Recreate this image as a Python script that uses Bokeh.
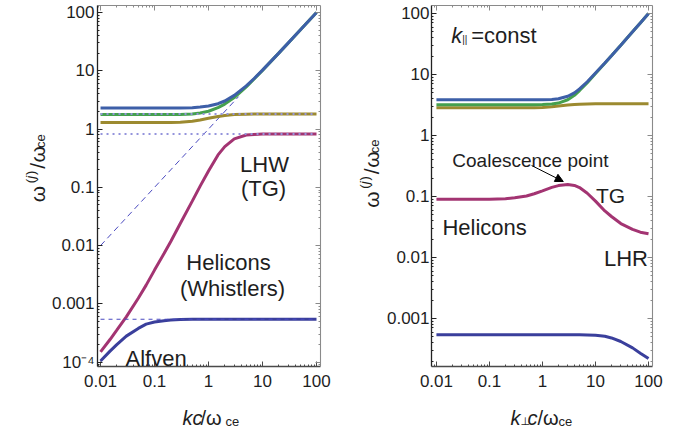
import math
from bokeh.plotting import figure
from bokeh.models import (Range1d, FixedTicker, LogAxis, Label, Arrow, NormalHead,
                          CustomJSTickFormatter)
from bokeh.layouts import row, column
from bokeh.embed import file_html
from bokeh.resources import INLINE

# ---------------- data ----------------
# left panel: parallel propagation, x = kc/omega_ce
K_PAR = [0.01, 0.015, 0.02, 0.03, 0.05, 0.07, 0.1, 0.15, 0.2, 0.3, 0.5, 0.7,
         1, 1.5, 2, 3, 5, 7, 10, 20, 30, 50, 100]
FAST_PAR = [2.30, 2.30, 2.30, 2.30, 2.30, 2.30, 2.30, 2.30, 2.30, 2.30, 2.33, 2.38,
            2.48, 2.72, 3.03, 3.78, 5.5, 7.37, 10.26, 20.1, 30.1, 50.05, 100]
GREEN_PAR = [1.77, 1.77, 1.77, 1.77, 1.77, 1.77, 1.77, 1.77, 1.77, 1.78, 1.82, 1.88,
             2.02, 2.33, 2.68, 3.47, 5.3, 7.23, 10.16, 20.08, 30.05, 50.03, 100]
OLIVE_PAR = [1.29, 1.29, 1.29, 1.29, 1.29, 1.29, 1.29, 1.29, 1.29, 1.31, 1.36, 1.43,
             1.53, 1.64, 1.71, 1.77, 1.80, 1.81, 1.81, 1.81, 1.81, 1.81, 1.81]
WHISTLER_PAR = [1.5e-4, 2.45e-4, 3.55e-4, 6.0e-4, 1.25e-3, 2.1e-3, 3.8e-3, 7.3e-3,
                0.0118, 0.024, 0.058, 0.105, 0.19, 0.36, 0.50, 0.68, 0.79, 0.81,
                0.82, 0.82, 0.82, 0.82, 0.82]
ALFVEN_PAR = [1.05e-4, 1.55e-4, 2.0e-4, 2.8e-4, 3.8e-4, 4.5e-4, 4.9e-4, 5.15e-4,
              5.28e-4, 5.38e-4, 5.43e-4, 5.45e-4, 5.45e-4, 5.45e-4, 5.45e-4, 5.45e-4,
              5.45e-4, 5.45e-4, 5.45e-4, 5.45e-4, 5.45e-4, 5.45e-4, 5.45e-4]
LEVEL_X = [0.01, 100]
LEVEL_UPPER = [1.81, 1.81]
LEVEL_LHW = [0.82, 0.82]
LEVEL_ALFVEN = [5.45e-4, 5.45e-4]
LIGHT_K = [0.01, 3.6]
LIGHT_W = [0.01, 3.6]

# right panel: k_parallel = const, x = k_perp c/omega_ce
K_PERP = [0.01, 0.02, 0.05, 0.1, 0.2, 0.3, 0.5, 0.7, 1, 1.5, 2, 3, 4, 5,
          7, 10, 15, 20, 30, 50, 70, 100]
FAST_PERP = [3.85, 3.85, 3.85, 3.85, 3.85, 3.85, 3.85, 3.85, 3.87, 3.9, 4.0, 4.4,
             5.0, 5.8, 7.6, 10.6, 15.4, 20.3, 30.2, 50.1, 70.1, 100]
GREEN_PERP = [3.2, 3.2, 3.2, 3.2, 3.2, 3.2, 3.2, 3.2, 3.22, 3.28, 3.4, 3.85,
              4.55, 5.45, 7.35, 10.4, 15.3, 20.25, 30.15, 50.1, 70.1, 100]
OLIVE_PERP = [2.86, 2.86, 2.86, 2.86, 2.86, 2.86, 2.86, 2.86, 2.88, 2.95, 3.05, 3.15,
              3.21, 3.25, 3.28, 3.30, 3.31, 3.31, 3.31, 3.31, 3.31, 3.31]
HELICON_PERP = [0.09, 0.09, 0.09, 0.0905, 0.092, 0.095, 0.102, 0.111, 0.124, 0.141,
                0.151, 0.157, 0.152, 0.14, 0.113, 0.084, 0.058, 0.047, 0.036,
                0.029, 0.026, 0.0245]
ALFVEN_PERP = [5.4e-4, 5.4e-4, 5.4e-4, 5.4e-4, 5.4e-4, 5.4e-4, 5.4e-4, 5.4e-4,
               5.4e-4, 5.4e-4, 5.4e-4, 5.4e-4, 5.4e-4, 5.4e-4, 5.38e-4, 5.3e-4,
               5.1e-4, 4.8e-4, 4.2e-4, 3.3e-4, 2.7e-4, 2.2e-4]

X_TICKS = [0.01, 0.1, 1, 10, 100]
X_TICK_LABELS = ["0.01", "0.1", "1", "10", "100"]
Y_TICKS_LEFT = [1e-4, 1e-3, 0.01, 0.1, 1, 10, 100]
Y_TICK_LABELS_LEFT = ["10\u207b\u2074", "0.001", "0.01", "0.1", "1", "10", "100"]
Y_TICKS_RIGHT = [1e-3, 0.01, 0.1, 1, 10, 100]
Y_TICK_LABELS_RIGHT = ["0.001", "0.01", "0.1", "1", "10", "100"]

# ---------------- styling ----------------
FONT = "Liberation Sans"
SYM_FONT = "DejaVu Sans"
INK = "#1e1e1e"
C_FAST = "#3d5fa8"
C_GREEN = "#45a04e"
C_OLIVE = "#9c8a30"
C_MAG = "#a33472"
C_NAVY = "#3a3f9c"
C_DOT = "#9494dc"
C_DASH = "#4a4ac0"

MINOR = [m * 10.0 ** e for e in range(-6, 4) for m in range(2, 10)]
MAIN_H = 398           # height of the row holding the two panels
XLAB_H = 439 - MAIN_H  # height of the row holding the x-axis titles


def fmt(ticks, labels):
    return CustomJSTickFormatter(args=dict(t=ticks, l=labels), code="""
        for (let i = 0; i < t.length; i++) {
            if (Math.abs(Math.log10(tick) - Math.log10(t[i])) < 1e-6) return l[i];
        }
        return "";
    """)


def label(fig, s, x, y, size, align="left", italic=False, angle=0.0, font=FONT):
    fig.add_layout(Label(x=x, y=y, text=s, text_font=font, text_font_size=f"{size}px",
                         text_color=INK, text_align=align, text_baseline="alphabetic",
                         text_font_style="italic" if italic else "normal", angle=angle))


def make_panel(page_x0, width, fl, fr, ft, fb, xlog, ylog, yticks, ylabels, ystandoff):
    p = figure(width=width, height=MAIN_H, x_axis_type="log", y_axis_type="log",
               x_range=Range1d(10 ** xlog[0], 10 ** xlog[1]),
               y_range=Range1d(10 ** ylog[0], 10 ** ylog[1]),
               output_backend="svg", toolbar_location=None,
               min_border_left=fl - page_x0, min_border_right=page_x0 + width - fr,
               min_border_top=ft, min_border_bottom=MAIN_H - fb)
    p.grid.visible = False
    p.outline_line_color = None
    p.background_fill_color = "white"
    p.border_fill_color = "white"
    xt = FixedTicker(ticks=X_TICKS, minor_ticks=MINOR)
    yt = FixedTicker(ticks=yticks, minor_ticks=MINOR)
    for ax, tk, f, col in ((p.xaxis[0], xt, fmt(X_TICKS, X_TICK_LABELS), "#4a4a4a"),
                           (p.yaxis[0], yt, fmt(yticks, ylabels), "#222222")):
        ax.ticker = tk
        ax.formatter = f
        ax.axis_line_color = col
        ax.axis_line_width = 1.3
        ax.major_tick_in = 5
        ax.major_tick_out = 0
        ax.minor_tick_in = 2
        ax.minor_tick_out = 0
        ax.major_tick_line_color = col
        ax.minor_tick_line_color = col
        ax.major_label_text_font = FONT
        ax.major_label_text_font_size = "17px"
        ax.major_label_text_color = INK
    p.xaxis[0].major_label_standoff = 8
    p.yaxis[0].major_label_standoff = ystandoff
    for loc, tk in (("right", yt), ("above", xt)):
        ax = LogAxis(ticker=tk, formatter=CustomJSTickFormatter(code="return '';"),
                     major_label_text_font_size="8px", major_label_standoff=0,
                     axis_line_color="#8a8a8a", axis_line_width=1.1,
                     major_tick_in=5, major_tick_out=0, minor_tick_in=2, minor_tick_out=0,
                     major_tick_line_color="#8a8a8a", minor_tick_line_color="#8a8a8a")
        p.add_layout(ax, loc)

    def to_data(px, py):
        lx = xlog[0] + (px - fl) / (fr - fl) * (xlog[1] - xlog[0])
        ly = ylog[1] - (py - ft) / (fb - ft) * (ylog[1] - ylog[0])
        return 10 ** lx, 10 ** ly

    def text(s, px, py, size, **kw):
        x, y = to_data(px, py)
        label(p, s, x, y, size, **kw)
    return p, to_data, text


def make_text_box(page_x0, page_y0, w, h):
    """A bare figure whose frame is the whole box, used to hold axis titles."""
    f = figure(width=w, height=h, x_range=Range1d(0, w), y_range=Range1d(0, h),
               x_axis_location=None, y_axis_location=None, toolbar_location=None,
               output_backend="svg", min_border=0)
    f.grid.visible = False
    f.outline_line_color = None
    f.background_fill_color = "white"
    f.border_fill_color = "white"

    def text(s, px, py, size, **kw):
        label(f, s, px - page_x0, h - (py - page_y0), size, **kw)
    return f, text


def ylabel(text, xb, y0):
    # rotated title  omega^(j) / omega_ce, built from pieces going upward
    r = math.pi / 2
    text("\u03c9", xb, y0, 21, angle=r)
    text("(", xb - 7, y0 - 21, 13, angle=r)
    text("j", xb - 7, y0 - 26, 13, italic=True, angle=r)
    text(")", xb - 7, y0 - 30, 13, angle=r)
    text("/", xb, y0 - 37, 21, angle=r)
    text("\u03c9", xb, y0 - 44, 21, angle=r)
    text("ce", xb + 3, y0 - 60, 13, angle=r)


# ---------------- left panel ----------------
yL, tyL = make_text_box(0, 0, 48, MAIN_H)
pL, dL, tL = make_panel(48, 302, 97, 320, 4, 366, (-2.056, 2.074), (-4.074, 2.12),
                        Y_TICKS_LEFT, Y_TICK_LABELS_LEFT, 3)
pL.line(LIGHT_K, LIGHT_W, line_color=C_DASH, line_width=1, line_dash="6 4")
pL.line(K_PAR, OLIVE_PAR, line_color=C_OLIVE, line_width=3)
pL.line(K_PAR, GREEN_PAR, line_color=C_GREEN, line_width=3)
pL.line(K_PAR, FAST_PAR, line_color=C_FAST, line_width=3)
pL.line(K_PAR, WHISTLER_PAR, line_color=C_MAG, line_width=3)
pL.line(K_PAR, ALFVEN_PAR, line_color=C_NAVY, line_width=3)
pL.line(LEVEL_X, LEVEL_UPPER, line_color=C_DOT, line_width=2, line_dash="2 4")
pL.line(LEVEL_X, LEVEL_LHW, line_color=C_DOT, line_width=2, line_dash="2 4")
pL.line(LEVEL_X, LEVEL_ALFVEN, line_color=C_DASH, line_width=1.2, line_dash="4 4")

tL("LHW", 264, 163, 22, align="center")
tL("(TG)", 263, 188, 22, align="center")
tL("Helicons", 228, 262, 22, align="center")
tL("(Whistlers)", 232, 288, 22, align="center")
tL("Alfven", 125, 358, 22)
ylabel(tyL, 37, 217)

xL, txL = make_text_box(0, MAIN_H, 350, XLAB_H)
txL("kc", 182, 417, 20, italic=True)
txL("/\u03c9", 200, 417, 20)
txL("ce", 225, 421, 13)

# ---------------- right panel ----------------
yR, tyR = make_text_box(350, 0, 33, MAIN_H)
pR, dR, tR = make_panel(383, 314, 429, 652, 5, 366, (-2.093, 2.075), (-3.787, 2.131),
                        Y_TICKS_RIGHT, Y_TICK_LABELS_RIGHT, 2)
pR.line(K_PERP, OLIVE_PERP, line_color=C_OLIVE, line_width=3)
pR.line(K_PERP, GREEN_PERP, line_color=C_GREEN, line_width=3)
pR.line(K_PERP, FAST_PERP, line_color=C_FAST, line_width=3)
pR.line(K_PERP, HELICON_PERP, line_color=C_MAG, line_width=3)
pR.line(K_PERP, ALFVEN_PERP, line_color=C_NAVY, line_width=3)

tR("k", 449, 35, 22, italic=True)
tR("||", 460, 39, 10)
tR("=const", 469, 35, 22)
tR("Coalescence point", 450, 160, 19)
tR("TG", 595, 195, 21)
tR("Helicons", 440, 227, 22)
tR("LHR", 603, 258, 22)
ax0, ay0 = dR(530, 165)
ax1, ay1 = dR(562, 181)
pR.add_layout(Arrow(x_start=ax0, y_start=ay0, x_end=ax1, y_end=ay1, line_width=1,
                    line_color="black",
                    end=NormalHead(size=8, fill_color="black", line_color="black")))
ylabel(tyR, 371, 223)

xR, txR = make_text_box(350, MAIN_H, 347, XLAB_H)
txR("k", 510, 417, 20, italic=True)
txR("\u22a5", 520, 421, 11, font=SYM_FONT)
txR("c", 527, 417, 20, italic=True)
txR("/\u03c9", 537, 417, 20)
txR("ce", 558, 421, 13)

layout = column(row(yL, pL, yR, pR), row(xL, xR))
open("out.html", "w").write(file_html(layout, INLINE))
